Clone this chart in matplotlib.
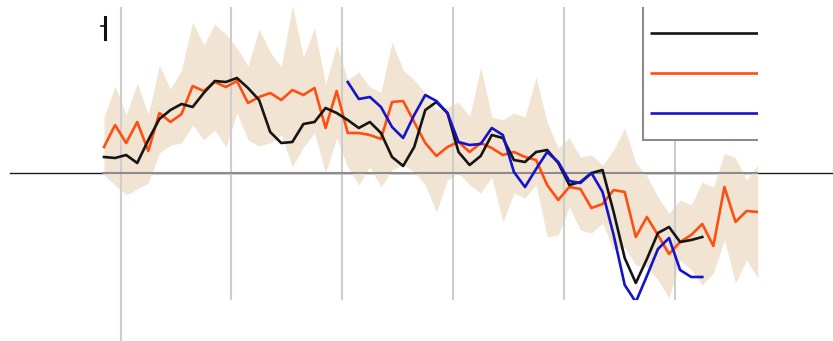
import matplotlib
matplotlib.use("Agg")
import matplotlib.pyplot as plt
from matplotlib.lines import Line2D
from matplotlib.patches import Rectangle
import numpy as np

# Period index for each observation
periods = list(range(60))

# Series values
series_black = [0.64, 0.60, 0.72, 0.40, 1.32, 2.16, 2.52, 2.76, 2.64, 3.20,
                3.68, 3.64, 3.80, 3.40, 2.92, 1.64, 1.20, 1.24, 1.96, 2.04,
                2.60, 2.40, 2.12, 1.80, 2.04, 1.60, 0.64, 0.28, 1.04, 2.52,
                2.84, 2.40, 0.84, 0.32, 0.68, 1.52, 1.40, 0.52, 0.44, 0.84,
                0.92, 0.40, -0.48, -0.36, 0.00, 0.12, -1.56, -3.40, -4.40, -3.44,
                -2.40, -2.16, -2.76, -2.68, -2.56]

series_orange = [1.04, 1.92, 1.20, 2.04, 0.88, 2.40, 2.04, 2.36, 3.48, 3.28,
                 3.64, 3.44, 3.68, 2.80, 3.04, 3.20, 2.92, 3.32, 3.12, 3.40,
                 1.80, 3.28, 1.60, 1.60, 1.52, 1.36, 2.84, 2.88, 2.04, 1.20,
                 0.68, 1.04, 1.24, 0.84, 1.20, 1.00, 0.72, 0.84, 0.64, 0.52,
                 -0.48, -1.08, -0.56, -0.64, -1.40, -1.24, -0.68, -0.76, -2.56, -1.76,
                 -2.48, -3.24, -2.76, -2.48, -2.04, -2.92, -0.56, -1.96, -1.52, -1.56]

blue_start = 22
series_blue = [3.64, 2.96, 3.04, 2.64, 1.84, 1.40, 2.32, 3.12, 2.88, 2.40,
               1.24, 1.12, 1.16, 1.80, 1.52, 0.04, -0.56, 0.16, 0.84, 0.44,
               -0.32, -0.40, 0.00, -0.76, -2.48, -4.48, -5.16, -4.12, -3.04, -2.60,
               -3.88, -4.16, -4.16]

# Range band
band_upper = [2.24, 3.48, 2.32, 3.60, 2.32, 4.32, 3.36, 4.12, 6.04, 5.12,
              5.96, 5.56, 5.00, 4.28, 5.76, 4.84, 4.24, 6.72, 4.64, 5.80,
              3.56, 5.12, 3.72, 4.04, 3.44, 3.24, 5.24, 4.12, 3.72, 3.20,
              2.52, 2.64, 2.84, 2.24, 4.24, 2.24, 2.12, 2.40, 2.24, 3.84,
              2.04, 1.00, 1.40, 0.64, 0.72, 0.32, 0.92, 1.80, 0.40, -0.12,
              -0.96, -1.60, -1.08, -1.28, -0.36, -0.56, 0.80, 0.60, -0.28, 0.32]

band_lower = [-0.08, -0.48, -0.88, -0.64, -0.40, 0.80, 1.12, 1.20, 1.92, 1.32,
              1.72, 1.04, 2.40, 1.32, 1.08, 1.20, 1.52, 0.24, 1.04, 1.60,
              0.00, 1.40, 0.24, -0.48, 0.24, -0.56, 0.12, 0.32, 0.04, -0.48,
              -1.56, -0.28, 0.00, -0.48, -0.80, -0.16, -1.96, -0.80, -1.00, -0.48,
              -2.56, -2.48, -1.36, -2.28, -2.40, -2.00, -3.08, -2.96, -3.68, -3.76,
              -4.28, -5.00, -3.48, -3.88, -4.48, -4.00, -2.68, -4.40, -3.48, -4.20]

# Vertical reference lines
grid_positions = [1.5, 11.5, 21.5, 31.5, 41.5, 51.5]

C_BLACK = "#151515"
C_ORANGE = "#ff4e12"
C_BLUE = "#1414c8"
C_BAND = "#f2e4d3"
C_GRID = "#cdcdcd"
C_ZERO = "#8c8c8c"

W, H = 833, 341
fig = plt.figure(figsize=(W / 100, H / 100), dpi=100)
fig.patch.set_facecolor("white")

# axes box in pixels: x 102..758, y 7..300 (from top)
ax = fig.add_axes([102 / W, (H - 300) / H, 656 / W, 293 / H])
ax.set_facecolor("none")
ax.set_xlim(-0.18, 59.03)
ax.set_ylim(-5.08, 6.64)
ax.axis("off")

# full-width baseline behind the axes
fig.add_artist(Line2D([10 / W, 1.0], [(H - 173) / H] * 2, color="#1a1a1a",
                      lw=1.0, zorder=-1))
# first vertical line continues below the plot area
fig.add_artist(Line2D([121 / W] * 2, [0, (H - 300) / H], color=C_GRID,
                      lw=1.5, zorder=-1))

x = np.array(periods)
ax.fill_between(x, band_lower, band_upper, color=C_BAND, lw=0, zorder=1)

for g in grid_positions:
    ax.axvline(g, color=C_GRID, lw=1.5, zorder=2)

ax.axhline(0, color=C_ZERO, lw=1.5, zorder=3)

ax.plot(x[:len(series_black)], series_black, color=C_BLACK, lw=1.9, zorder=5)
ax.plot(x, series_orange, color=C_ORANGE, lw=1.9, zorder=4)
ax.plot(x[blue_start:blue_start + len(series_blue)], series_blue,
        color=C_BLUE, lw=1.9, zorder=6)

# legend box (clipped at the plot edge)
frame = Rectangle(((643 - 102) / 656, (300 - 140) / 293), 0.5, 0.6,
                  transform=ax.transAxes, facecolor="white",
                  edgecolor=C_ZERO, lw=1.5, zorder=7, clip_on=True)
ax.add_patch(frame)
for py, col in [(33, C_BLACK), (73, C_ORANGE), (113, C_BLUE)]:
    yy = (300 - py) / 293
    ax.plot([(650 - 102) / 656, 1.0], [yy, yy], color=col, lw=1.9,
            transform=ax.transAxes, zorder=8, solid_capstyle="butt")

# small marker at top left
fig.add_artist(Line2D([105 / W] * 2, [(H - 17) / H, (H - 39) / H],
                      color="#111111", lw=2.2))
fig.add_artist(Line2D([101 / W, 104 / W], [(H - 26) / H] * 2,
                      color="#111111", lw=1.2))

fig.savefig("out.png", dpi=100)
